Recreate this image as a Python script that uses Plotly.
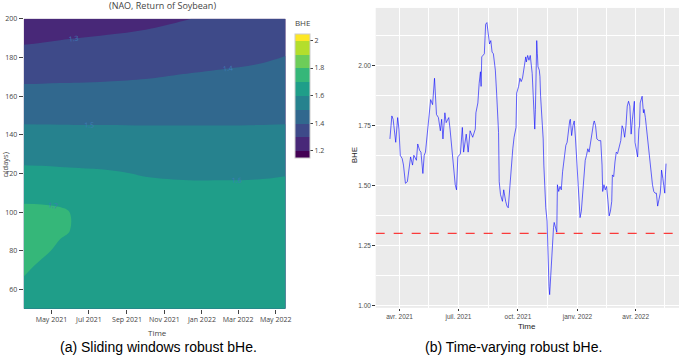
import plotly.graph_objects as go

# ---------------- Panel (a): sliding-window robust bHe (contour) ----------------
contour_times = ["2021-03-17", "2021-04-15", "2021-05-15", "2021-06-15", "2021-08-01",
                 "2021-10-01", "2021-12-01", "2022-02-01", "2022-04-01", "2022-05-17"]
window_n = [50, 60, 70, 80, 90, 100, 110, 120, 130, 140, 150, 160, 170, 180, 190, 200]
bhe_grid = [
    [1.660, 1.660, 1.660, 1.660, 1.660, 1.660, 1.655, 1.650, 1.650, 1.650],
    [1.680, 1.670, 1.665, 1.660, 1.660, 1.660, 1.655, 1.650, 1.650, 1.650],
    [1.710, 1.680, 1.670, 1.665, 1.660, 1.660, 1.655, 1.650, 1.650, 1.650],
    [1.750, 1.715, 1.685, 1.680, 1.665, 1.660, 1.655, 1.650, 1.650, 1.650],
    [1.750, 1.740, 1.710, 1.690, 1.665, 1.655, 1.650, 1.650, 1.650, 1.650],
    [1.720, 1.720, 1.712, 1.688, 1.655, 1.645, 1.640, 1.640, 1.640, 1.640],
    [1.674, 1.670, 1.666, 1.650, 1.635, 1.625, 1.620, 1.620, 1.620, 1.625],
    [1.621, 1.619, 1.616, 1.613, 1.608, 1.595, 1.590, 1.589, 1.591, 1.596],
    [1.572, 1.571, 1.569, 1.567, 1.564, 1.557, 1.554, 1.553, 1.554, 1.557],
    [1.526, 1.525, 1.524, 1.523, 1.522, 1.519, 1.518, 1.517, 1.517, 1.518],
    [1.478, 1.478, 1.478, 1.478, 1.478, 1.479, 1.481, 1.482, 1.483, 1.485],
    [1.431, 1.431, 1.431, 1.431, 1.433, 1.437, 1.443, 1.448, 1.452, 1.457],
    [1.382, 1.383, 1.385, 1.386, 1.389, 1.395, 1.405, 1.413, 1.420, 1.430],
    [1.333, 1.336, 1.340, 1.343, 1.348, 1.356, 1.369, 1.379, 1.389, 1.402],
    [1.283, 1.289, 1.295, 1.300, 1.307, 1.317, 1.332, 1.346, 1.359, 1.374],
    [1.233, 1.242, 1.250, 1.258, 1.266, 1.278, 1.296, 1.315, 1.329, 1.346],
]
viridis10 = ["#440154", "#482878", "#3E4A89", "#31688E", "#26828E",
             "#1F9E89", "#35B779", "#6DCD59", "#B4DE2C", "#FDE725"]

# ---------------- Panel (b): time-varying robust bHe ----------------
tv_dates = [
    "2021-03-17", "2021-03-20", "2021-03-22", "2021-03-26", "2021-03-29", "2021-03-31",
    "2021-04-02", "2021-04-05", "2021-04-07", "2021-04-10", "2021-04-13", "2021-04-16",
    "2021-04-18", "2021-04-21", "2021-04-23", "2021-04-27", "2021-04-29",
    "2021-05-02", "2021-05-04", "2021-05-07", "2021-05-09", "2021-05-11", "2021-05-14",
    "2021-05-16", "2021-05-19", "2021-05-22", "2021-05-25", "2021-05-28", "2021-05-31",
    "2021-06-03", "2021-06-05", "2021-06-07", "2021-06-10", "2021-06-12", "2021-06-16",
    "2021-06-18", "2021-06-21", "2021-06-24", "2021-06-26", "2021-06-28", "2021-06-30",
    "2021-07-04", "2021-07-07", "2021-07-09", "2021-07-13", "2021-07-16", "2021-07-19",
    "2021-07-23", "2021-07-27", "2021-07-28", "2021-07-31",
    "2021-08-02", "2021-08-04", "2021-08-05", "2021-08-06", "2021-08-10", "2021-08-12",
    "2021-08-14", "2021-08-16", "2021-08-18", "2021-08-20", "2021-08-22", "2021-08-24",
    "2021-08-27", "2021-08-29",
    "2021-09-01", "2021-09-02", "2021-09-04", "2021-09-07", "2021-09-09", "2021-09-12",
    "2021-09-14", "2021-09-16", "2021-09-18", "2021-09-20", "2021-09-23", "2021-09-25",
    "2021-09-28", "2021-09-29",
    "2021-10-02", "2021-10-04", "2021-10-06", "2021-10-08", "2021-10-10", "2021-10-13",
    "2021-10-14", "2021-10-16", "2021-10-18", "2021-10-20", "2021-10-23", "2021-10-25",
    "2021-10-27", "2021-10-28", "2021-10-29", "2021-10-30", "2021-10-31",
    "2021-11-01", "2021-11-03", "2021-11-04", "2021-11-05", "2021-11-07", "2021-11-09",
    "2021-11-10", "2021-11-12", "2021-11-13", "2021-11-15", "2021-11-16", "2021-11-18",
    "2021-11-19", "2021-11-20", "2021-11-22", "2021-11-23", "2021-11-25", "2021-11-26",
    "2021-11-28", "2021-11-30",
    "2021-12-01", "2021-12-03", "2021-12-05", "2021-12-07", "2021-12-09", "2021-12-10",
    "2021-12-12", "2021-12-14", "2021-12-16", "2021-12-18", "2021-12-20", "2021-12-21",
    "2021-12-23", "2021-12-25", "2021-12-27", "2021-12-29", "2021-12-31",
    "2022-01-02", "2022-01-04", "2022-01-05", "2022-01-07", "2022-01-09", "2022-01-11",
    "2022-01-13", "2022-01-15", "2022-01-17", "2022-01-19", "2022-01-21", "2022-01-23",
    "2022-01-26", "2022-01-27", "2022-01-29", "2022-01-31",
    "2022-02-03", "2022-02-06", "2022-02-08", "2022-02-09", "2022-02-11", "2022-02-13",
    "2022-02-15", "2022-02-17", "2022-02-19", "2022-02-21", "2022-02-23", "2022-02-24",
    "2022-02-26", "2022-02-28",
    "2022-03-02", "2022-03-04", "2022-03-07", "2022-03-09", "2022-03-11", "2022-03-13",
    "2022-03-15", "2022-03-17", "2022-03-19", "2022-03-21", "2022-03-23", "2022-03-25",
    "2022-03-27", "2022-03-28", "2022-03-30", "2022-03-31",
    "2022-04-02", "2022-04-04", "2022-04-06", "2022-04-07", "2022-04-08", "2022-04-10",
    "2022-04-11", "2022-04-13", "2022-04-14", "2022-04-16", "2022-04-18", "2022-04-20",
    "2022-04-23", "2022-04-25", "2022-04-27", "2022-04-29",
    "2022-05-01", "2022-05-03", "2022-05-05", "2022-05-07", "2022-05-09", "2022-05-10",
    "2022-05-11", "2022-05-13", "2022-05-15", "2022-05-16", "2022-05-17", "2022-05-18",
]
tv_bhe = [
    1.694, 1.790, 1.776, 1.680, 1.783, 1.735,
    1.626, 1.612, 1.585, 1.509, 1.516, 1.585,
    1.619, 1.585, 1.626, 1.605, 1.673,
    1.646, 1.639, 1.550, 1.626, 1.639, 1.721,
    1.790, 1.858, 1.837, 1.947, 1.796, 1.783,
    1.728, 1.776, 1.694, 1.803, 1.762, 1.783,
    1.735, 1.653, 1.544, 1.503, 1.482, 1.619,
    1.632, 1.742, 1.639, 1.714, 1.639, 1.728,
    1.701, 1.735, 1.803, 1.844,
    1.926, 1.974, 1.913, 2.036, 2.049, 2.172,
    2.179, 2.118, 2.090, 2.104, 2.056, 2.049,
    1.981, 1.885,
    1.721, 1.516, 1.462, 1.434, 1.482, 1.434,
    1.414, 1.407, 1.489, 1.571, 1.653, 1.701,
    1.742, 1.885,
    1.913, 1.947, 1.933, 1.947, 1.981, 2.036,
    2.015, 2.042, 2.022, 2.042, 1.967, 1.860,
    1.735, 1.817, 2.063, 2.104, 2.049,
    1.995, 1.981, 1.954, 1.872, 1.803, 1.694,
    1.585, 1.448, 1.407, 1.352, 1.216, 1.079,
    1.045, 1.093, 1.189, 1.284, 1.325, 1.346,
    1.325, 1.305,
    1.503, 1.475, 1.496, 1.482, 1.557, 1.585,
    1.612, 1.667, 1.680, 1.735, 1.769, 1.776,
    1.708, 1.749, 1.769, 1.694, 1.585,
    1.489, 1.407, 1.366, 1.393, 1.462, 1.557,
    1.605, 1.626, 1.653, 1.639, 1.680, 1.721,
    1.762, 1.769, 1.749, 1.694,
    1.687, 1.687, 1.585, 1.475, 1.503, 1.482,
    1.496, 1.440, 1.373, 1.393, 1.434, 1.544,
    1.537, 1.598,
    1.639, 1.633, 1.667, 1.687, 1.749, 1.735,
    1.701, 1.749, 1.831, 1.851, 1.831, 1.714,
    1.776, 1.803, 1.851, 1.680,
    1.653, 1.619, 1.735, 1.749, 1.844, 1.865,
    1.872, 1.803, 1.817, 1.783, 1.735, 1.660,
    1.598, 1.544, 1.503, 1.475,
    1.468, 1.468, 1.414, 1.441, 1.468, 1.503,
    1.564, 1.530, 1.475, 1.468, 1.544, 1.591,
]
threshold = 1.30
tv_xrange = ["2021-02-23", "2022-06-07"]

tv_major = ["2021-04-01", "2021-07-01", "2021-10-01", "2022-01-01", "2022-04-01"]
tv_major_text = ["avr. 2021", "juil. 2021", "oct. 2021", "janv. 2022", "avr. 2022"]
tv_minor = ["2021-05-16", "2021-08-16", "2021-11-16", "2022-02-15", "2022-05-16"]
bhe_major = [1.00, 1.25, 1.50, 1.75, 2.00]
bhe_minor = [1.125, 1.375, 1.625, 1.875, 2.125]

W, H = 685, 358
def px_x(p):
    return p / W
def px_y(p):
    return 1 - p / H

fig = go.Figure()

fig.add_trace(go.Contour(
    x=contour_times, y=window_n, z=bhe_grid,
    xaxis="x", yaxis="y",
    autocontour=False,
    contours=dict(start=1.2, end=2.0, size=0.1, coloring="fill",
                  showlabels=True,
                  labelfont=dict(size=7, color="#3F7DB8", family="Open Sans")),
    line=dict(width=0, smoothing=1.0),
    colorscale=[[i / 9, c] for i, c in enumerate(viridis10)],
    colorbar=dict(
        title=dict(text="BHE", side="top", font=dict(size=8, color="#444", family="Open Sans")),
        thickness=15, thicknessmode="pixels",
        len=142 / H, lenmode="fraction",
        x=px_x(298), xanchor="left", xpad=0,
        y=px_y(84), yanchor="middle", ypad=0,
        outlinewidth=1, outlinecolor="#ccc",
        ticks="outside", ticklen=3, tickcolor="#444",
        dtick=0.2, tick0=1.2,
        tickfont=dict(size=7, color="#444", family="Open Sans"),
    ),
    hoverinfo="skip",
))

fig.add_trace(go.Scatter(
    x=tv_dates, y=tv_bhe, xaxis="x2", yaxis="y2",
    mode="lines", line=dict(color="#0000FF", width=0.6),
    showlegend=False, hoverinfo="skip",
))

# dashed reference line at the threshold, spanning the whole panel
fig.add_trace(go.Scatter(
    x=tv_xrange, y=[threshold, threshold], xaxis="x2", yaxis="y2",
    mode="lines", line=dict(color="#FF0000", width=1.2, dash="dash"),
    opacity=0.75,
    showlegend=False, hoverinfo="skip",
))

left_font = dict(size=7, color="#444", family="Open Sans")
right_font = dict(size=6.5, color="#4D4D4D", family="Liberation Sans")

fig.update_layout(
    width=W, height=H,
    margin=dict(l=0, r=0, t=0, b=0),
    paper_bgcolor="white",
    plot_bgcolor="#EBEBEB",
    showlegend=False,
    xaxis=dict(
        domain=[px_x(24), px_x(288)], anchor="y", type="date",
        range=["2021-03-17", "2022-05-17"],
        tick0="2021-05-01", dtick="M2", tickformat="%b %Y",
        ticks="outside", ticklen=4, tickcolor="#444",
        tickfont=left_font, showgrid=False, zeroline=False, showline=False,
    ),
    yaxis=dict(
        domain=[px_y(309), px_y(14)], anchor="x",
        range=[50, 200], dtick=20,
        ticks="outside", ticklen=4, tickcolor="#444",
        tickfont=left_font, showgrid=False, zeroline=False, showline=False,
    ),
    xaxis2=dict(
        domain=[px_x(379), 1.0], anchor="y2", type="date",
        range=tv_xrange,
        tickmode="array", tickvals=tv_major, ticktext=tv_major_text,
        ticks="outside", ticklen=2.5, tickcolor="#333", tickwidth=0.8,
        tickfont=right_font,
        showgrid=True, gridcolor="white", gridwidth=1,
        minor=dict(tickmode="array", tickvals=tv_minor, showgrid=True,
                   gridcolor="white", gridwidth=0.5, ticks=""),
        zeroline=False, showline=False,
    ),
    yaxis2=dict(
        domain=[px_y(308), px_y(3)], anchor="x2",
        range=[0.99, 2.24],
        tickmode="array", tickvals=bhe_major,
        ticktext=[f"{v:.2f}" for v in bhe_major],
        ticks="outside", ticklen=2.5, tickcolor="#333", tickwidth=0.8,
        tickfont=right_font,
        showgrid=True, gridcolor="white", gridwidth=1,
        minor=dict(tickmode="array", tickvals=bhe_minor, showgrid=True,
                   gridcolor="white", gridwidth=0.5, ticks=""),
        zeroline=False, showline=False,
    ),
)

annots = [
    dict(text="(NAO, Return of Soybean)", x=px_x(164), y=px_y(0.5), yanchor="middle",
         font=dict(size=9, color="#444", family="Open Sans")),
    dict(text="Time", x=px_x(159), y=px_y(333), yanchor="middle",
         font=dict(size=8, color="#444", family="Open Sans")),
    dict(text="n(days)", x=px_x(5), y=px_y(162), yanchor="middle", textangle=-90,
         font=dict(size=7.5, color="#444", family="Open Sans")),
    dict(text="BHE", x=px_x(358), y=px_y(153), yanchor="middle", textangle=-90,
         font=dict(size=8, color="#222", family="Liberation Sans")),
    dict(text="Time", x=px_x(532), y=px_y(327), yanchor="middle",
         font=dict(size=8, color="#222", family="Liberation Sans")),
    dict(text="(a) Sliding windows robust bHe.", x=px_x(160), y=px_y(348), yanchor="middle",
         font=dict(size=14, color="black", family="Liberation Sans")),
    dict(text="(b) Time-varying robust bHe.", x=px_x(518), y=px_y(348), yanchor="middle",
         font=dict(size=14, color="black", family="Liberation Sans")),
]
for a in annots:
    a.update(xref="paper", yref="paper", xanchor="center", showarrow=False)
    fig.add_annotation(**a)

fig.write_html(
    "out.html",
    config={"displayModeBar": False},
    post_script="document.body.style.margin='0';document.body.style.overflow='hidden';",
)
